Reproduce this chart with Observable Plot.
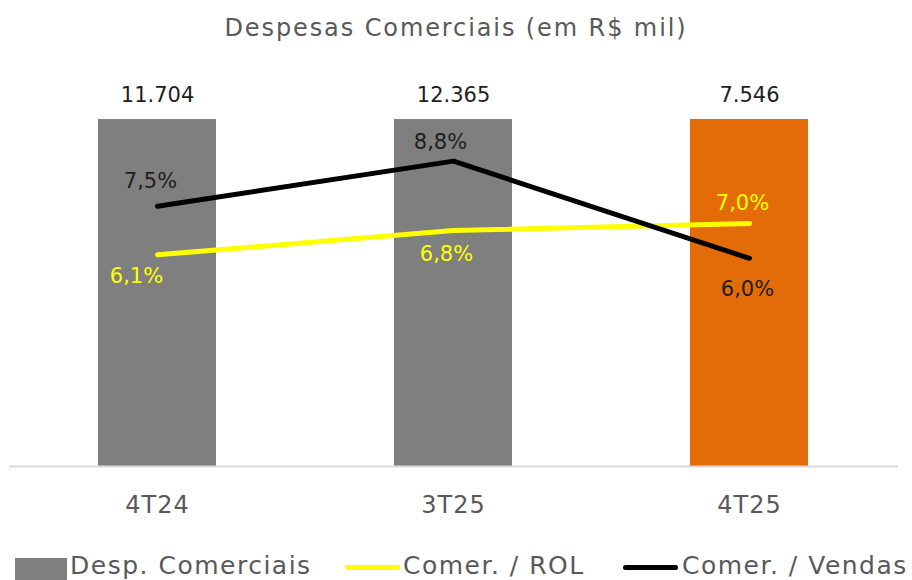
<!DOCTYPE html>
<html>
<head>
<meta charset="utf-8">
<script src="https://cdn.jsdelivr.net/npm/d3@7"></script>
<script src="https://cdn.jsdelivr.net/npm/@observablehq/plot@0.6"></script>
<style>
  body { margin: 0; background: #fff; font-family: "DejaVu Sans", sans-serif; }
  #wrap { position: relative; width: 912px; height: 580px; overflow: hidden; }
  #title { position: absolute; top: 14px; left: 0; width: 912px; text-align: center; font-size: 24px; letter-spacing: 1.9px; color: #595959; }
  #chart { position: absolute; top: 56px; left: 0; }
  .leg { position: absolute; top: 551px; font-size: 25px; letter-spacing: 1.5px; color: #595959; white-space: nowrap; }
  .sw { position: absolute; }
</style>
</head>
<body>
<div id="wrap">
  <div id="title">Despesas Comerciais (em R$ mil)</div>
  <div id="chart"></div>
  <div id="legend"></div>
</div>
<script>
// ---- data ----
const categories = ["4T24", "3T25", "4T25"];
const despComerciais = [11704, 12365, 7546];
const comerRol = [6.1, 6.8, 7.0];
const comerVendas = [7.5, 8.8, 6.0];
const despLabels = ["11.704", "12.365", "7.546"];
const rolLabels = ["6,1%", "6,8%", "7,0%"];
const vendasLabels = ["7,5%", "8,8%", "6,0%"];
const barColors = ["#7f7f7f", "#7f7f7f", "#e36c09"];

// ---- layout / style config ----
const pctAxisMax = 10;       // secondary axis (percent) top
const barAxisMax = 7000;     // primary axis top (bars clipped at top)
const vendasOffsets = [[-7, -25], [-13, -19], [-2, 31]];
const rolOffsets = [[-21, 21], [-7, 24], [-7, -20]];

const rows = categories.map((c, i) => ({
  cat: c, desp: despComerciais[i], rol: comerRol[i], vendas: comerVendas[i],
  despLabel: despLabels[i], rolLabel: rolLabels[i], vendasLabel: vendasLabels[i],
  color: barColors[i]
}));
const barY = d => d.desp * pctAxisMax / barAxisMax;

const marks = [
  Plot.barY(rows, {x: "cat", y: barY, fill: "color"}),
  Plot.ruleY([0], {stroke: "#d9d9d9", strokeWidth: 2}),
  Plot.text(rows, {x: "cat", y: barY, text: "despLabel", dy: -24, fill: "#1e1e1e", fontSize: 21}),
  Plot.line(rows, {x: "cat", y: "rol", stroke: "#ffff00", strokeWidth: 5, strokeLinecap: "round"}),
  Plot.line(rows, {x: "cat", y: "vendas", stroke: "#000000", strokeWidth: 5, strokeLinecap: "round"})
];
rows.forEach((r, i) => {
  marks.push(Plot.text([r], {x: "cat", y: "vendas", text: "vendasLabel", dx: vendasOffsets[i][0], dy: vendasOffsets[i][1], fill: "#1e1e1e", fontSize: 21}));
  marks.push(Plot.text([r], {x: "cat", y: "rol", text: "rolLabel", dx: rolOffsets[i][0], dy: rolOffsets[i][1], fill: "#ffff00", fontSize: 21}));
});

const chart = Plot.plot({
  width: 912,
  height: 480,
  marginTop: 63,
  marginBottom: 70,
  marginLeft: 9,
  marginRight: 14,
  style: {fontFamily: "DejaVu Sans, sans-serif", background: "transparent"},
  x: {type: "band", domain: categories, paddingInner: 0.6, paddingOuter: 0.3, label: null, tickSize: 0, tickPadding: 29, fontSize: 24},
  y: {domain: [0, pctAxisMax], clamp: true, axis: null},
  marks
});
const xa = chart.querySelector('g[aria-label="x-axis tick label"]');
if (xa) { xa.setAttribute("font-size", "24"); xa.setAttribute("fill", "#595959"); xa.style.letterSpacing = "1px"; }
chart.querySelectorAll('g[aria-label="x-axis tick label"] text').forEach(t => { t.setAttribute("fill", "#595959"); });
document.getElementById("chart").appendChild(chart);

// ---- legend ----
const legendItems = [
  {label: "Desp. Comerciais", type: "rect", color: "#7f7f7f", sx: 15, tx: 70},
  {label: "Comer. / ROL", type: "line", color: "#ffff00", sx: 345, tx: 403},
  {label: "Comer. / Vendas", type: "line", color: "#000000", sx: 623, tx: 682}
];
const leg = document.getElementById("legend");
legendItems.forEach(it => {
  const sw = document.createElement("div");
  sw.className = "sw";
  sw.style.left = it.sx + "px";
  sw.style.background = it.color;
  if (it.type === "rect") { sw.style.top = "558px"; sw.style.width = "52px"; sw.style.height = "22px"; }
  else { sw.style.top = "565px"; sw.style.width = "55px"; sw.style.height = "5px"; sw.style.borderRadius = "3px"; }
  leg.appendChild(sw);
  const t = document.createElement("div");
  t.className = "leg";
  t.style.left = it.tx + "px";
  t.textContent = it.label;
  leg.appendChild(t);
});
</script>
</body>
</html>
